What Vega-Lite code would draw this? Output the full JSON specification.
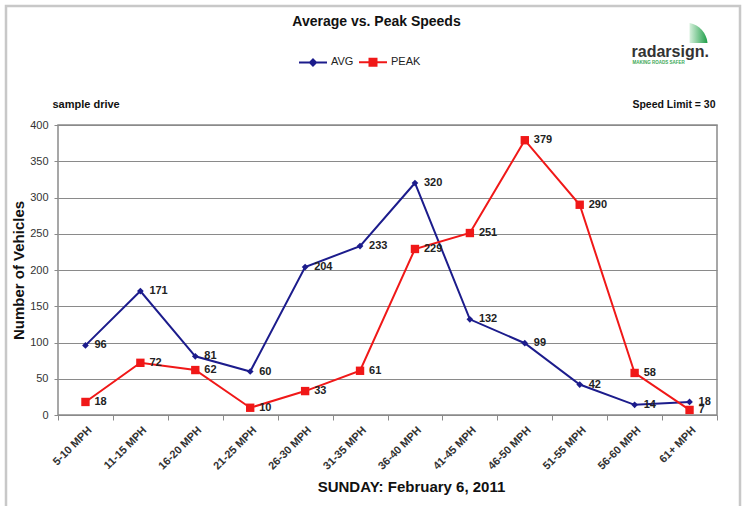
{
  "$schema": "https://vega.github.io/schema/vega-lite/v6.json",
  "width": 659,
  "height": 290,
  "autosize": {"type": "none"},
  "padding": {"left": 58, "top": 125, "right": 29, "bottom": 91},
  "background": "white",
  "title": {
    "text": "Average vs. Peak Speeds",
    "anchor": "middle",
    "frame": "group",
    "dx": -11,
    "offset": -24,
    "fontSize": 14,
    "font": "Liberation Sans",
    "fontWeight": "bold",
    "color": "#111111"
  },
  "config": {
    "font": "Liberation Sans",
    "view": {"stroke": "#8a8a8a", "strokeWidth": 1.5}
  },
  "data": {
    "values": [
      {"range": "5-10 MPH", "series": "AVG", "count": 96},
      {"range": "11-15 MPH", "series": "AVG", "count": 171},
      {"range": "16-20 MPH", "series": "AVG", "count": 81},
      {"range": "21-25 MPH", "series": "AVG", "count": 60},
      {"range": "26-30 MPH", "series": "AVG", "count": 204},
      {"range": "31-35 MPH", "series": "AVG", "count": 233},
      {"range": "36-40 MPH", "series": "AVG", "count": 320},
      {"range": "41-45 MPH", "series": "AVG", "count": 132},
      {"range": "46-50 MPH", "series": "AVG", "count": 99},
      {"range": "51-55 MPH", "series": "AVG", "count": 42},
      {"range": "56-60 MPH", "series": "AVG", "count": 14},
      {"range": "61+ MPH", "series": "AVG", "count": 18},
      {"range": "5-10 MPH", "series": "PEAK", "count": 18},
      {"range": "11-15 MPH", "series": "PEAK", "count": 72},
      {"range": "16-20 MPH", "series": "PEAK", "count": 62},
      {"range": "21-25 MPH", "series": "PEAK", "count": 10},
      {"range": "26-30 MPH", "series": "PEAK", "count": 33},
      {"range": "31-35 MPH", "series": "PEAK", "count": 61},
      {"range": "36-40 MPH", "series": "PEAK", "count": 229},
      {"range": "41-45 MPH", "series": "PEAK", "count": 251},
      {"range": "46-50 MPH", "series": "PEAK", "count": 379},
      {"range": "51-55 MPH", "series": "PEAK", "count": 290},
      {"range": "56-60 MPH", "series": "PEAK", "count": 58},
      {"range": "61+ MPH", "series": "PEAK", "count": 7}
    ]
  },
  "encoding": {
    "x": {
      "field": "range",
      "type": "nominal",
      "sort": null,
      "scale": {"type": "band", "paddingInner": 0, "paddingOuter": 0},
      "axis": {
        "title": "SUNDAY: February 6, 2011",
        "titleFontSize": 15,
        "titleFontWeight": "bold",
        "titleColor": "#111111",
        "titleX": 353,
        "titleY": 76,
        "titleBaseline": "alphabetic",
        "labelAngle": -45,
        "labelFontSize": 11,
        "labelFontWeight": "bold",
        "labelColor": "#333333",
        "labelPadding": 4,
        "tickBand": "extent",
        "tickColor": "#8a8a8a",
        "tickSize": 5,
        "domain": false,
        "grid": false
      }
    },
    "y": {
      "field": "count",
      "type": "quantitative",
      "scale": {"domain": [0, 400]},
      "axis": {
        "title": "Number of Vehicles",
        "titleFontSize": 15,
        "titleFontWeight": "bold",
        "titleColor": "#111111",
        "titlePadding": 3,
        "values": [0, 50, 100, 150, 200, 250, 300, 350, 400],
        "labelFontSize": 11,
        "labelColor": "#333333",
        "labelPadding": 6,
        "tickColor": "#8a8a8a",
        "tickSize": 4,
        "gridColor": "#8a8a8a",
        "gridWidth": 1,
        "domain": false
      }
    }
  },
  "layer": [
    {
      "data": {"values": [{"label": "frame"}]},
      "mark": {"type": "rect", "fill": null, "fillOpacity": 0, "stroke": "#c8c8c8", "strokeWidth": 2.5},
      "encoding": {
        "x": {"value": -52},
        "x2": {"value": 682},
        "y": {"value": -119},
        "y2": {"value": 395}
      }
    },
    {
      "mark": {"type": "line", "strokeWidth": 2},
      "encoding": {
        "color": {
          "field": "series",
          "type": "nominal",
          "scale": {"domain": ["AVG", "PEAK"], "range": ["#1c1c8c", "#f01818"]},
          "legend": {
            "title": null,
            "orient": "none",
            "direction": "horizontal",
            "legendX": 240,
            "legendY": -78,
            "labelFontSize": 11,
            "labelColor": "#222222",
            "labelOffset": 3,
            "columnPadding": 1,
            "symbolSize": 784,
            "symbolStrokeWidth": 2,
            "encode": {
              "symbols": {
                "update": {
                  "shape": {"signal": "datum.label === 'AVG' ? 'M-1,0H1M0,-0.22L0.22,0L0,0.22L-0.22,0Z' : 'M-1,0H1M-0.25,-0.25H0.25V0.25H-0.25Z'"},
                  "fill": {"signal": "datum.label === 'AVG' ? '#1c1c8c' : '#f01818'"},
                  "stroke": {"signal": "datum.label === 'AVG' ? '#1c1c8c' : '#f01818'"},
                  "strokeWidth": {"value": 2}
                }
              }
            }
          }
        }
      }
    },
    {
      "transform": [{"filter": "datum.series === 'AVG'"}],
      "mark": {"type": "point", "filled": true, "opacity": 1, "shape": "diamond", "size": 45, "color": "#1c1c8c"}
    },
    {
      "transform": [{"filter": "datum.series === 'PEAK'"}],
      "mark": {"type": "point", "filled": true, "opacity": 1, "shape": "square", "size": 70, "color": "#f01818"}
    },
    {
      "mark": {"type": "text", "align": "left", "baseline": "middle", "dx": 9, "fontSize": 11, "fontWeight": "bold", "color": "#222222"},
      "encoding": {"text": {"field": "count", "type": "quantitative"}}
    },
    {
      "data": {"values": [{"label": "sample drive"}]},
      "mark": {"type": "text", "align": "left", "baseline": "middle", "dx": -33, "fontSize": 11, "fontWeight": "bold", "color": "#111111"},
      "encoding": {
        "x": {"datum": "5-10 MPH", "type": "nominal"},
        "y": {"value": -20},
        "text": {"field": "label", "type": "nominal"}
      }
    },
    {
      "data": {"values": [{"label": "Speed Limit = 30"}]},
      "mark": {"type": "text", "align": "right", "baseline": "middle", "dx": 26, "fontSize": 10.5, "fontWeight": "bold", "color": "#111111"},
      "encoding": {
        "x": {"datum": "61+ MPH", "type": "nominal"},
        "y": {"value": -20},
        "text": {"field": "label", "type": "nominal"}
      }
    },
    {
      "data": {"values": [{"label": "radarsign."}]},
      "mark": {"type": "text", "align": "left", "baseline": "alphabetic", "dx": -58, "fontSize": 16, "font": "Liberation Sans", "fontWeight": "bold", "color": "#333333"},
      "encoding": {
        "x": {"datum": "61+ MPH", "type": "nominal"},
        "y": {"value": -68},
        "text": {"field": "label", "type": "nominal"}
      }
    },
    {
      "data": {"values": [{"label": "MAKING ROADS SAFER"}]},
      "mark": {"type": "text", "align": "left", "baseline": "middle", "dx": -57, "fontSize": 4.5, "fontWeight": "bold", "color": "#3aa856"},
      "encoding": {
        "x": {"datum": "61+ MPH", "type": "nominal"},
        "y": {"value": -62},
        "text": {"field": "label", "type": "nominal"}
      }
    },
    {
      "data": {"values": [{"label": "leaf"}]},
      "mark": {
        "type": "point",
        "filled": true,
        "opacity": 1,
        "size": 400,
        "shape": "M0,1L0,-1C1,-0.8 1.7,0 1.8,1Z",
        "color": {"gradient": "linear", "x1": 0, "y1": 0, "x2": 1, "y2": 0, "stops": [{"offset": 0, "color": "#d6f0dc"}, {"offset": 1, "color": "#1e9e48"}]}
      },
      "encoding": {
        "x": {"datum": "61+ MPH", "type": "nominal"},
        "y": {"value": -92}
      }
    }
  ]
}
